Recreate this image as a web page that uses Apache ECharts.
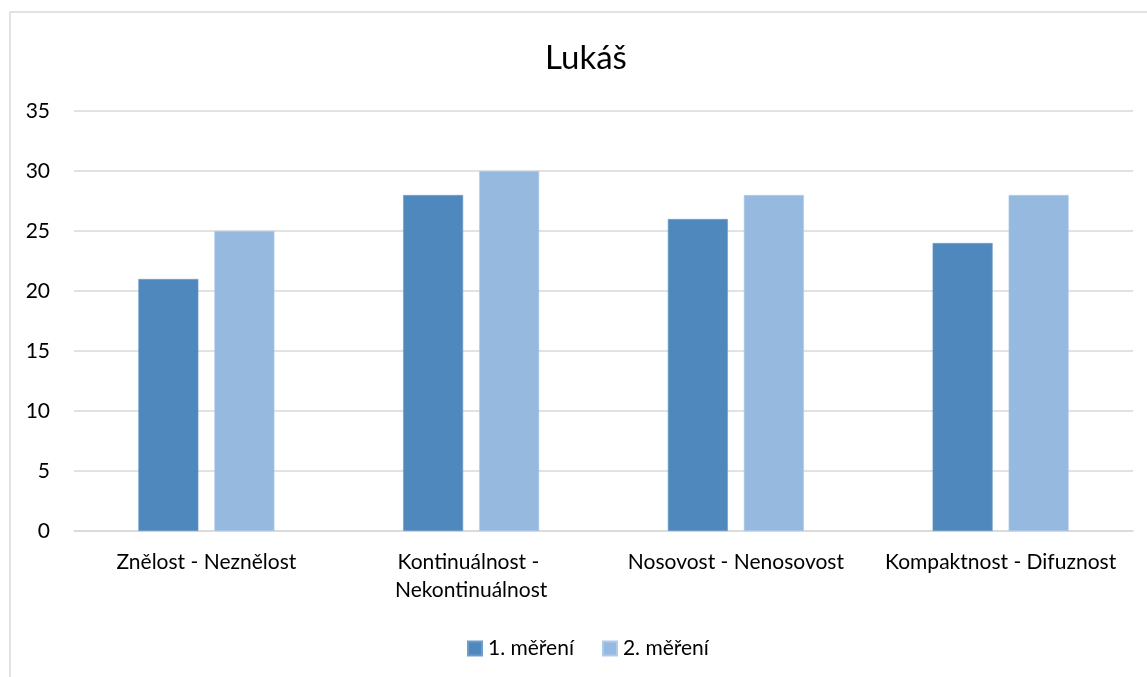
<!DOCTYPE html>
<html>
<head>
<meta charset="utf-8">
<script src="https://cdn.jsdelivr.net/npm/echarts@6/dist/echarts.min.js"></script>
<style>
  html, body { margin: 0; padding: 0; background: #ffffff; }
  #chart { width: 1147px; height: 677px; }
</style>
</head>
<body>
<div id="chart"></div>
<script>
// Categories (distinctive feature pairs) and the two measurement rounds
const categories = ['Znělost - Neznělost', 'Kontinuálnost - Nekontinuálnost', 'Nosovost - Nenosovost', 'Kompaktnost - Difuznost'];
const mereni1 = [21, 28, 26, 24];
const mereni2 = [25, 30, 28, 28];
const seriesNames = ['1. měření', '2. měření'];
const yTicks = { min: 0, max: 35, interval: 5 };

const FONT = 'Lato, "Open Sans", sans-serif';

const chart = echarts.init(document.getElementById('chart'));
chart.setOption({
  backgroundColor: '#ffffff',
  animation: false,
  graphic: [{
    type: 'rect',
    shape: { x: 10, y: 12, width: 1160, height: 700 },
    style: { fill: 'none', stroke: '#d9d9d9', lineWidth: 1.5 },
    silent: true
  }],
  title: {
    text: 'Lukáš',
    left: 540,
    top: 37,
    textStyle: { fontFamily: FONT, fontSize: 33, fontWeight: 'normal', color: '#000000' }
  },
  grid: { left: 74, right: 14, top: 111, bottom: 146, containLabel: false },
  legend: {
    top: 633,
    left: 462,
    itemWidth: 14,
    itemHeight: 14,
    itemGap: 28,
    icon: 'rect',
    textStyle: { fontFamily: FONT, fontSize: 21, color: '#000000', padding: [0, 0, 0, 1] },
    data: seriesNames
  },
  xAxis: {
    type: 'category',
    data: categories,
    axisLine: { show: true, lineStyle: { color: '#d9d9d9', width: 1.5 } },
    axisTick: { show: false },
    axisLabel: {
      fontFamily: FONT, fontSize: 21, color: '#000000',
      margin: 17, lineHeight: 28,
      width: 258, overflow: 'break', interval: 0
    }
  },
  yAxis: {
    type: 'value',
    min: yTicks.min, max: yTicks.max, interval: yTicks.interval,
    axisLine: { show: false },
    axisTick: { show: false },
    axisLabel: { fontFamily: FONT, fontSize: 21, color: '#000000', margin: 24 },
    splitLine: { lineStyle: { color: '#d9d9d9', width: 1.5 } }
  },
  series: [
    {
      name: seriesNames[0], type: 'bar', data: mereni1,
      barWidth: 60, barGap: '26.7%',
      itemStyle: { color: '#4f88bc', borderColor: '#6f9cc8', borderWidth: 0.6 }
    },
    {
      name: seriesNames[1], type: 'bar', data: mereni2,
      barWidth: 60,
      itemStyle: { color: '#96b9e0', borderColor: '#b0cbe9', borderWidth: 0.6 }
    }
  ]
});
</script>
</body>
</html>
